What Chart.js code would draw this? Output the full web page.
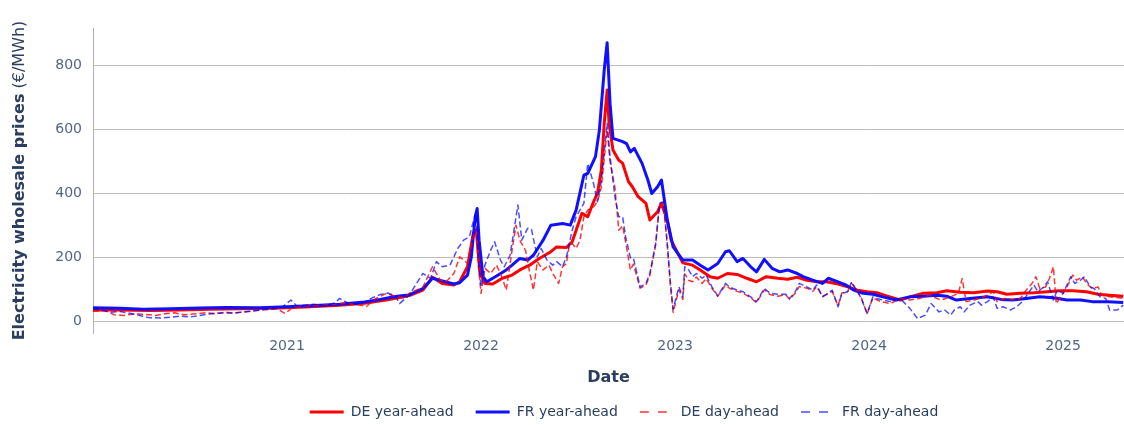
<!DOCTYPE html>
<html>
<head>
<meta charset="utf-8">
<title>Electricity wholesale prices</title>
<script src="https://cdn.jsdelivr.net/npm/chart.js@4.4.1/dist/chart.umd.min.js"></script>
<style>
  html, body { margin: 0; padding: 0; background: #ffffff; }
  #c { display: block; }
</style>
</head>
<body>
<canvas id="c" width="1124" height="425"></canvas>
<script>
// Time axis values are years after baseYear.
const baseYear = 2020;
const xTicks = [1, 2, 3, 4, 5];
const xTickLabels = ['2021', '2022', '2023', '2024', '2025'];
const yTicks = [0, 200, 400, 600, 800];
const seriesNames = ['DE year-ahead', 'FR year-ahead', 'DE day-ahead', 'FR day-ahead'];

// DE year-ahead (€/MWh)
const deYearAheadT = [0.00,0.14,0.29,0.45,0.60,0.76,0.91,1.00,1.12,1.27,1.40,1.51,1.60,1.63,1.70,1.75,1.80,1.86,1.89,1.93,1.96,1.975,1.995,2.02,2.06,2.11,2.16,2.20,2.25,2.30,2.36,2.39,2.44,2.47,2.52,2.55,2.58,2.60,2.62,2.635,2.65,2.66,2.68,2.71,2.73,2.76,2.78,2.81,2.85,2.87,2.91,2.93,2.96,2.98,3.01,3.04,3.09,3.13,3.18,3.22,3.27,3.32,3.37,3.42,3.47,3.53,3.58,3.63,3.68,3.73,3.78,3.84,3.89,3.94,3.99,4.04,4.09,4.16,4.21,4.28,4.35,4.40,4.47,4.54,4.61,4.66,4.71,4.78,4.85,4.92,4.98,5.05,5.12,5.18,5.24,5.31];
const deYearAheadV = [37,37,35,37,39,41,42,44,47,52,58,68,78,82,99,139,120,115,125,172,276,288,151,120,118,136,146,162,177,198,219,234,232,250,339,328,375,401,474,620,724,620,537,505,495,438,422,391,370,318,344,370,318,255,219,184,177,162,141,136,151,148,136,125,141,136,133,139,130,125,125,118,109,99,94,91,81,68,78,89,91,97,92,91,96,94,86,89,91,94,97,97,94,86,83,80];

// FR year-ahead (€/MWh)
const frYearAheadT = [0.00,0.14,0.26,0.40,0.55,0.69,0.86,1.00,1.12,1.27,1.40,1.48,1.55,1.60,1.63,1.70,1.75,1.80,1.86,1.89,1.93,1.95,1.97,1.98,1.99,2.01,2.03,2.08,2.13,2.16,2.20,2.24,2.27,2.32,2.36,2.42,2.46,2.49,2.53,2.55,2.59,2.61,2.635,2.65,2.665,2.68,2.73,2.75,2.77,2.79,2.83,2.86,2.88,2.91,2.93,2.96,2.99,3.04,3.09,3.13,3.17,3.22,3.26,3.28,3.32,3.35,3.39,3.42,3.46,3.50,3.54,3.58,3.63,3.66,3.71,3.76,3.79,3.84,3.88,3.92,3.97,4.02,4.07,4.14,4.21,4.28,4.35,4.40,4.45,4.52,4.61,4.68,4.74,4.81,4.88,4.95,5.02,5.09,5.15,5.23,5.31];
const frYearAheadV = [44,42,39,41,43,45,44,47,50,55,62,70,78,82,84,104,136,128,118,122,146,203,328,354,255,141,125,143,162,177,198,193,208,255,302,307,302,349,458,464,516,599,787,872,682,573,563,557,531,542,495,443,401,422,443,318,234,193,193,177,162,182,219,222,188,198,172,156,195,167,156,162,151,141,130,120,136,125,115,99,89,86,78,68,78,80,83,80,68,73,78,70,68,73,78,75,68,68,63,63,60];

// DE day-ahead (€/MWh)
const deDayAheadT = [0.00,0.06,0.11,0.16,0.22,0.27,0.32,0.37,0.42,0.47,0.53,0.58,0.63,0.68,0.73,0.81,0.89,0.95,0.99,1.03,1.09,1.17,1.25,1.30,1.35,1.41,1.45,1.51,1.56,1.60,1.63,1.70,1.75,1.79,1.82,1.86,1.89,1.93,1.96,1.975,1.985,2.00,2.02,2.05,2.08,2.11,2.13,2.16,2.18,2.20,2.23,2.245,2.27,2.29,2.32,2.35,2.37,2.40,2.42,2.44,2.455,2.47,2.49,2.51,2.53,2.55,2.58,2.60,2.62,2.65,2.665,2.69,2.71,2.73,2.745,2.77,2.785,2.82,2.85,2.87,2.90,2.92,2.94,2.96,2.975,2.99,3.02,3.04,3.05,3.07,3.09,3.11,3.14,3.16,3.19,3.22,3.26,3.28,3.32,3.35,3.39,3.42,3.46,3.49,3.53,3.57,3.59,3.62,3.64,3.68,3.71,3.73,3.76,3.78,3.81,3.84,3.86,3.89,3.91,3.94,3.96,3.99,4.02,4.06,4.11,4.16,4.21,4.26,4.31,4.37,4.42,4.46,4.48,4.50,4.54,4.57,4.61,4.64,4.66,4.70,4.74,4.78,4.81,4.84,4.86,4.88,4.91,4.93,4.95,4.965,5.00,5.02,5.05,5.07,5.10,5.12,5.15,5.18,5.20,5.24,5.31];
const deDayAheadV = [33,35,22,20,25,23,20,25,28,22,25,28,26,30,27,33,38,40,26,45,50,52,55,58,55,48,70,88,80,75,89,108,172,130,125,151,203,183,266,286,183,89,167,151,177,136,99,224,302,255,222,172,99,188,162,177,151,120,172,182,240,245,229,255,328,349,359,375,420,599,500,420,286,300,250,162,180,105,115,145,240,365,370,240,120,30,100,70,150,130,125,140,120,135,105,80,115,105,95,90,75,60,100,85,80,85,70,90,110,105,95,110,80,85,95,50,90,95,120,95,75,25,75,63,57,73,68,73,83,68,78,89,135,63,68,73,83,94,63,73,68,73,99,120,141,104,109,136,172,57,89,109,146,130,141,120,104,109,83,78,73];

// FR day-ahead (€/MWh)
const frDayAheadT = [0.00,0.04,0.09,0.14,0.19,0.24,0.29,0.35,0.40,0.45,0.50,0.55,0.60,0.65,0.73,0.81,0.87,0.94,0.98,1.02,1.05,1.09,1.14,1.20,1.25,1.27,1.31,1.36,1.40,1.44,1.48,1.52,1.56,1.58,1.63,1.70,1.74,1.77,1.80,1.84,1.88,1.91,1.94,1.96,1.975,1.985,2.00,2.02,2.05,2.07,2.10,2.12,2.15,2.19,2.21,2.24,2.26,2.29,2.31,2.34,2.37,2.39,2.42,2.44,2.47,2.49,2.53,2.55,2.58,2.60,2.62,2.65,2.665,2.69,2.71,2.73,2.745,2.77,2.785,2.82,2.85,2.87,2.90,2.92,2.94,2.96,2.975,2.99,3.02,3.04,3.05,3.07,3.09,3.11,3.14,3.16,3.19,3.22,3.26,3.28,3.32,3.35,3.39,3.42,3.46,3.49,3.53,3.57,3.59,3.62,3.64,3.68,3.71,3.73,3.76,3.78,3.81,3.84,3.86,3.89,3.91,3.94,3.96,3.99,4.02,4.04,4.07,4.11,4.16,4.21,4.25,4.29,4.32,4.36,4.39,4.42,4.44,4.47,4.49,4.52,4.56,4.58,4.61,4.64,4.66,4.69,4.73,4.76,4.79,4.82,4.85,4.87,4.90,4.92,4.95,4.97,5.00,5.04,5.06,5.09,5.11,5.14,5.16,5.19,5.22,5.24,5.28,5.31];
const frDayAheadV = [40,38,30,32,27,20,13,12,14,18,15,20,24,27,28,33,38,42,48,68,50,52,55,50,60,73,60,55,62,75,85,90,80,57,83,151,136,188,172,177,229,255,266,313,339,203,109,177,224,250,193,172,208,365,255,292,289,203,229,193,177,188,172,203,286,328,370,495,432,375,440,620,516,391,328,328,266,200,200,109,120,151,245,370,375,245,130,40,109,78,172,162,141,151,136,146,109,81,120,109,99,94,78,63,104,89,86,86,73,94,120,109,99,115,78,86,99,47,89,94,125,94,73,26,78,73,68,63,73,42,10,21,57,31,37,21,37,47,31,52,63,52,63,78,42,47,37,47,63,89,115,94,109,125,68,99,89,141,120,130,141,109,104,78,73,37,37,52];

const FONT = '"DejaVu Sans", Verdana, sans-serif';
const TITLE_COLOR = '#2a3f5f';
const TICK_COLOR = '#506784';
const GRID_COLOR = '#bdbdbd';

const toPoints = (t, v) => t.map((x, i) => ({ x: x, y: v[i] }));

const lineStyles = [
  { color: '#ff0000', width: 3, dash: [] },
  { color: '#1010ff', width: 3, dash: [] },
  { color: 'rgba(255,0,0,0.8)', width: 1.5, dash: [6, 3] },
  { color: 'rgba(0,0,255,0.7)', width: 1.5, dash: [6, 3] }
];

const seriesData = [
  toPoints(deYearAheadT, deYearAheadV),
  toPoints(frYearAheadT, frYearAheadV),
  toPoints(deDayAheadT, deDayAheadV),
  toPoints(frDayAheadT, frDayAheadV)
];

const datasets = seriesData.map((data, i) => ({
  label: seriesNames[i],
  data: data,
  borderColor: lineStyles[i].color,
  backgroundColor: lineStyles[i].color,
  borderWidth: lineStyles[i].width,
  borderDash: lineStyles[i].dash,
  borderJoinStyle: 'round',
  borderCapStyle: 'butt',
  pointRadius: 0,
  pointHoverRadius: 0,
  tension: 0,
  fill: false,
  // later series are painted on top
  order: seriesNames.length - i
}));

// Axis titles and the legend row below the plot.
const decorations = {
  id: 'decorations',
  afterDraw(chart) {
    const ctx = chart.ctx;
    const area = chart.chartArea;
    ctx.save();

    // y-axis title: bold label plus plain unit
    const boldPart = 'Electricity wholesale prices';
    const unitPart = ' (€/MWh)';
    ctx.translate(20, (area.top + area.bottom) / 2);
    ctx.rotate(-Math.PI / 2);
    ctx.textBaseline = 'middle';
    ctx.textAlign = 'left';
    ctx.fillStyle = TITLE_COLOR;
    ctx.font = 'bold 16px ' + FONT;
    const wBold = ctx.measureText(boldPart).width;
    ctx.font = '16px ' + FONT;
    const wUnit = ctx.measureText(unitPart).width;
    const start = -(wBold + wUnit) / 2;
    ctx.font = 'bold 16px ' + FONT;
    ctx.fillText(boldPart, start, 0);
    ctx.font = '16px ' + FONT;
    ctx.fillText(unitPart, start + wBold, 0);
    ctx.restore();

    // x-axis title
    ctx.save();
    ctx.font = 'bold 16px ' + FONT;
    ctx.fillStyle = TITLE_COLOR;
    ctx.textAlign = 'center';
    ctx.textBaseline = 'middle';
    ctx.fillText('Date', (area.left + area.right) / 2, 378);
    ctx.restore();

    // legend
    ctx.save();
    ctx.font = '14px ' + FONT;
    ctx.textBaseline = 'middle';
    ctx.textAlign = 'left';
    const sample = 34, textGap = 7, itemGap = 22, legendY = 412, legendCenter = 624;
    const widths = seriesNames.map(n => sample + textGap + ctx.measureText(n).width);
    const total = widths.reduce((a, b) => a + b, 0) + itemGap * (widths.length - 1);
    let x = legendCenter - total / 2;
    seriesNames.forEach((name, i) => {
      const st = lineStyles[i];
      ctx.beginPath();
      ctx.strokeStyle = st.color;
      ctx.lineWidth = st.width;
      ctx.setLineDash(st.dash.length ? [9, 9] : []);
      ctx.moveTo(x, legendY);
      ctx.lineTo(x + sample, legendY);
      ctx.stroke();
      ctx.setLineDash([]);
      ctx.fillStyle = TITLE_COLOR;
      ctx.fillText(name, x + sample + textGap, legendY);
      x += widths[i] + itemGap;
    });
    ctx.restore();
  }
};

new Chart(document.getElementById('c'), {
  type: 'line',
  data: { datasets: datasets },
  options: {
    responsive: false,
    devicePixelRatio: 1,
    animation: false,
    events: [],
    layout: { padding: { top: 28, left: 0, right: 0, bottom: 0 } },
    plugins: {
      legend: { display: false },
      tooltip: { enabled: false }
    },
    scales: {
      x: {
        type: 'linear',
        min: 0,
        max: 5.314,
        afterBuildTicks: scale => { scale.ticks = xTicks.map(v => ({ value: v })); },
        afterFit: scale => { scale.height = 92; },
        grid: { display: false, drawTicks: false },
        border: { display: false },
        ticks: {
          padding: 5,
          color: TICK_COLOR,
          font: { family: FONT, size: 14 },
          maxRotation: 0,
          autoSkip: false,
          callback: value => xTickLabels[xTicks.indexOf(value)] || String(baseYear + value)
        }
      },
      y: {
        type: 'linear',
        min: -35,
        max: 918,
        afterBuildTicks: scale => { scale.ticks = yTicks.map(v => ({ value: v })); },
        afterFit: scale => { scale.width = 93; },
        grid: { color: GRID_COLOR, lineWidth: 1, drawTicks: false },
        border: { display: true, color: '#b0b0b0', width: 1 },
        ticks: {
          padding: 11,
          color: TICK_COLOR,
          font: { family: FONT, size: 14 },
          callback: value => String(value)
        }
      }
    }
  },
  plugins: [decorations]
});
</script>
</body>
</html>
